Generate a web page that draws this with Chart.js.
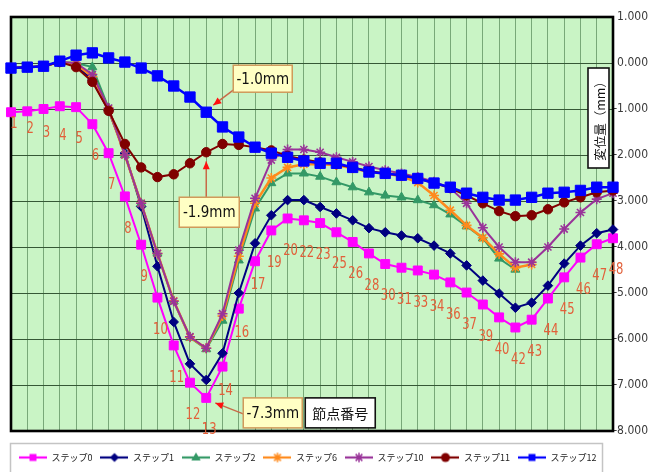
<!DOCTYPE html>
<html><head><meta charset="utf-8">
<script src="https://cdn.jsdelivr.net/npm/chart.js@4/dist/chart.umd.min.js"></script>
<style>html,body{margin:0;padding:0;background:#fff;}#wrap{width:655px;height:472px;}</style>
</head><body><div id="wrap"><canvas id="c" width="655" height="472"></canvas></div>
<script>
// ---- data ----
const nodeLabels = [1,2,3,4,5,6,7,8,9,10,11,12,13,14,16,17,19,20,22,23,25,26,28,30,31,33,34,36,37,39,40,42,43,44,45,46,47,48];
const seriesNames = ['ステップ0','ステップ1','ステップ2','ステップ6','ステップ10','ステップ11','ステップ12'];
const step0  = [-1.07,-1.05,-1.00,-0.94,-0.96,-1.33,-1.96,-2.90,-3.95,-5.10,-6.14,-6.95,-7.28,-6.60,-5.34,-4.31,-3.64,-3.38,-3.42,-3.48,-3.68,-3.89,-4.14,-4.37,-4.45,-4.51,-4.60,-4.77,-4.99,-5.25,-5.53,-5.75,-5.58,-5.12,-4.66,-4.23,-3.94,-3.81];
const step1  = [-0.11,-0.09,-0.07,0.02,-0.05,-0.37,-1.04,-1.96,-3.12,-4.42,-5.63,-6.54,-6.89,-6.31,-5.00,-3.92,-3.31,-2.98,-2.98,-3.13,-3.27,-3.42,-3.59,-3.68,-3.75,-3.81,-3.97,-4.14,-4.40,-4.73,-5.01,-5.32,-5.21,-4.84,-4.36,-3.97,-3.70,-3.62];
const step2  = [-0.11,-0.09,-0.07,0.02,0.00,-0.09,-0.98,-2.00,-3.05,-4.14,-5.18,-5.97,-6.22,-5.60,-4.29,-3.16,-2.61,-2.40,-2.40,-2.47,-2.59,-2.70,-2.81,-2.88,-2.92,-2.98,-3.09,-3.29,-3.55,-3.81,-4.25,-4.49,null,null,null,null,null,null];
const step6  = [-0.11,-0.09,-0.07,0.02,-0.02,-0.30,-1.00,-2.00,-3.05,-4.14,-5.17,-5.96,-6.20,-5.50,-4.20,-3.05,-2.50,-2.27,-2.20,-2.20,-2.22,-2.29,-2.37,-2.40,-2.46,-2.60,-2.88,-3.20,-3.53,-3.80,-4.15,-4.45,-4.38,null,null,null,null,null];
const step10 = [-0.11,-0.09,-0.07,0.02,0.00,-0.25,-0.98,-2.00,-3.05,-4.14,-5.18,-5.95,-6.20,-5.45,-4.07,-2.94,-2.11,-1.88,-1.88,-1.94,-2.05,-2.15,-2.25,-2.33,-2.40,-2.48,-2.58,-2.72,-3.05,-3.58,-4.00,-4.33,-4.33,-4.00,-3.61,-3.25,-2.96,-2.83];
const step11 = [-0.11,-0.09,-0.07,0.02,-0.09,-0.41,-1.04,-1.76,-2.27,-2.48,-2.42,-2.18,-1.94,-1.76,-1.78,-1.83,-1.90,-2.02,-2.10,-2.16,-2.20,-2.27,-2.35,-2.40,-2.44,-2.51,-2.61,-2.72,-2.88,-3.05,-3.22,-3.33,-3.31,-3.18,-3.03,-2.92,-2.81,-2.77];
const step12 = [-0.11,-0.09,-0.07,0.04,0.17,0.22,0.11,0.02,-0.11,-0.28,-0.50,-0.74,-1.07,-1.39,-1.61,-1.83,-1.96,-2.05,-2.13,-2.18,-2.18,-2.27,-2.37,-2.40,-2.44,-2.51,-2.61,-2.70,-2.83,-2.92,-2.98,-2.98,-2.92,-2.83,-2.81,-2.77,-2.70,-2.70];
const yMin = -8, yMax = 1, yStep = 1;
const notes = {blue:'-1.0mm', brown:'-1.9mm', pink:'-7.3mm', nodeTitle:'節点番号', axisTitle:'変位量（mm）'};

// ---- styles ----
const series = [step0, step1, step2, step6, step10, step11, step12];
const colors = ['#ff00ff','#000080','#339966','#ff8a1c','#993399','#800000','#0000ff'];
const pStyles = ['rect','rectRot','triangle','star','star','circle','rect'];
const pRadius = [6.3,4.8,5.2,5.0,5.0,4.7,7.3];
const lWidth = [2,2,2,2.5,2,2,2.5];
const NARROW = "'Liberation Sans Narrow','DejaVu Sans Condensed',sans-serif";

function marker(g, style, r, x, y, color){
  g.save(); g.fillStyle=color; g.strokeStyle=color; g.lineWidth=1.5; g.beginPath();
  if(style==='rect'){const s=r*Math.SQRT1_2; g.rect(x-s,y-s,2*s,2*s); g.fill();}
  else if(style==='rectRot'){g.moveTo(x,y-r);g.lineTo(x+r,y);g.lineTo(x,y+r);g.lineTo(x-r,y);g.closePath();g.fill();}
  else if(style==='triangle'){g.moveTo(x,y-r);g.lineTo(x+r*0.95,y+r*0.6);g.lineTo(x-r*0.95,y+r*0.6);g.closePath();g.fill();}
  else if(style==='circle'){g.arc(x,y,r,0,Math.PI*2);g.fill();}
  else if(style==='star'){const d=r*Math.SQRT1_2;g.moveTo(x-r,y);g.lineTo(x+r,y);g.moveTo(x,y-r);g.lineTo(x,y+r);g.moveTo(x-d,y-d);g.lineTo(x+d,y+d);g.moveTo(x-d,y+d);g.lineTo(x+d,y-d);g.stroke();}
  g.restore();
}
function legendImg(i){
  const c=document.createElement('canvas'); c.width=28; c.height=12;
  const g=c.getContext('2d');
  g.strokeStyle=colors[i]; g.lineWidth=2.2; g.beginPath(); g.moveTo(0,6); g.lineTo(28,6); g.stroke();
  marker(g,pStyles[i],Math.min(pRadius[i],5.2)*0.95,14,6,colors[i]);
  return c;
}
const legendImgs = series.map((s,i)=>legendImg(i));

const datasets = series.map((d,i)=>({
  label: seriesNames[i], data: d, borderColor: colors[i], backgroundColor: colors[i],
  pointStyle: pStyles[i], pointRadius: pRadius[i], pointHoverRadius: pRadius[i],
  pointBorderColor: colors[i], pointBackgroundColor: colors[i],
  pointBorderWidth: pStyles[i]==='star'?1.6:1, borderWidth: lWidth[i],
  tension: 0, clip: false, order: series.length - i
}));

function arrow(g,x1,y1,x2,y2){
  g.save(); g.strokeStyle='#c86a48'; g.lineWidth=1.5;
  g.beginPath(); g.moveTo(x1,y1); g.lineTo(x2,y2); g.stroke();
  const a=Math.atan2(y2-y1,x2-x1), L=8, W=3.5;
  g.fillStyle='#ff1010'; g.beginPath(); g.moveTo(x2,y2);
  g.lineTo(x2-L*Math.cos(a)+W*Math.sin(a), y2-L*Math.sin(a)-W*Math.cos(a));
  g.lineTo(x2-L*Math.cos(a)-W*Math.sin(a), y2-L*Math.sin(a)+W*Math.cos(a));
  g.closePath(); g.fill(); g.restore();
}
function noteBox(g,x,y,w,h,text){
  g.save(); g.fillStyle='#ffffc4'; g.fillRect(x,y,w,h);
  g.strokeStyle='#d09a5a'; g.lineWidth=1.5; g.strokeRect(x,y,w,h);
  g.fillStyle='#111'; g.font='15px '+NARROW; g.textAlign='center'; g.textBaseline='middle';
  g.fillText(text,x+w/2,y+h/2+1); g.restore();
}

const decor = {
  id:'decor',
  beforeDraw(chart){
    const g=chart.ctx, a=chart.chartArea;
    g.save(); g.fillStyle='#fff'; g.fillRect(0,0,chart.width,chart.height);
    g.fillStyle='#c9f4c5'; g.fillRect(a.left,a.top,a.right-a.left,a.bottom-a.top); g.restore();
  },
  beforeDatasetsDraw(chart){
    const g=chart.ctx, a=chart.chartArea;
    g.save(); g.strokeStyle='#000'; g.lineWidth=2.6;
    g.strokeRect(a.left,a.top,a.right-a.left,a.bottom-a.top); g.restore();
  },
  afterDatasetsDraw(chart){
    const g=chart.ctx, a=chart.chartArea, xs=chart.scales.x, ys=chart.scales.y;
    // node labels beside ステップ0 points
    g.save(); g.fillStyle='#e2603a'; g.textAlign='center'; g.textBaseline='middle';
    nodeLabels.forEach((n,i)=>{
      const px=xs.getPixelForValue(i), py=ys.getPixelForValue(step0[i]);
      const prev=step0[Math.max(0,i-1)], next=step0[Math.min(step0.length-1,i+1)];
      const steepUp = next-prev > 1.5;
      const dy=steepUp ? 24 : Math.min(32,12+6*i);
      g.save(); g.translate(px+3,py+dy); g.scale(0.92,1.15);
      g.font='14px '+NARROW; g.fillText(String(n),0,0); g.restore();
    });
    g.restore();
    // annotations
    const bx=xs.getPixelForValue(12), by=ys.getPixelForValue(step12[12]);
    arrow(g,bx+27,by-22,bx+7,by-7);
    noteBox(g,bx+27,by-47,59,27,notes.blue);
    const rx=xs.getPixelForValue(12), ry=ys.getPixelForValue(step11[12]);
    arrow(g,rx,ry+45,rx,ry+9);
    noteBox(g,rx-27,ry+45,60,30,notes.brown);
    const px=xs.getPixelForValue(12), py=ys.getPixelForValue(step0[12]);
    arrow(g,px+37,py+16,px+9,py+5);
    noteBox(g,px+37,py,59,30,notes.pink);
    g.save(); g.fillStyle='#fff'; g.fillRect(px+99,py,70,30);
    g.strokeStyle='#111'; g.lineWidth=1.6; g.strokeRect(px+99,py,70,30);
    g.fillStyle='#111'; g.font="14px 'Noto Sans CJK JP'"; g.textAlign='center'; g.textBaseline='middle';
    g.fillText(notes.nodeTitle,px+134,py+16); g.restore();
    // axis title box
    g.save(); const tx=a.right-25, ty=a.top+51;
    g.fillStyle='#fff'; g.fillRect(tx,ty,21,100);
    g.strokeStyle='#111'; g.lineWidth=1.6; g.strokeRect(tx,ty,21,100);
    g.translate(tx+11,ty+50); g.rotate(-Math.PI/2);
    g.fillStyle='#111'; g.font="12.5px 'Noto Sans CJK JP'"; g.textAlign='center'; g.textBaseline='middle';
    g.fillText(notes.axisTitle,0,1); g.restore();
  },
  afterDraw(chart){
    const g=chart.ctx, a=chart.chartArea;
    g.save(); g.strokeStyle='#c4c4c4'; g.lineWidth=1.5;
    g.strokeRect(10.5,a.bottom+12.5,592,40); g.restore();
  }
};

new Chart(document.getElementById('c'),{
  type:'line',
  data:{labels:nodeLabels.map(String), datasets},
  options:{
    responsive:false, animation:false, devicePixelRatio:1,
    layout:{padding:{left:11,top:17,right:7,bottom:0}},
    plugins:{
      tooltip:{enabled:false},
      legend:{position:'bottom', align:'start',
        labels:{usePointStyle:true, pointStyleWidth:28, boxHeight:10, padding:8,
          font:{size:9, family:"'Noto Sans CJK JP'"}, color:'#222',
          generateLabels(chart){
            return chart.data.datasets.map((ds,i)=>({text:ds.label, pointStyle:legendImgs[i],
              fillStyle:colors[i], strokeStyle:colors[i], lineWidth:0, hidden:false, datasetIndex:i, fontColor:'#222'}));
          }}}
    },
    scales:{
      x:{type:'category', offset:false,
        grid:{color:'#78a878', lineWidth:1, drawTicks:false},
        border:{display:false}, ticks:{display:false},
        afterFit(s){s.height=14;}},
      y:{position:'right', min:yMin, max:yMax,
        ticks:{stepSize:yStep, callback:v=>Number(v).toFixed(3), padding:6, crossAlign:'far',
          font:{family:NARROW, size:12}, color:'#3a3a3a'},
        grid:{color:'#365836', lineWidth:1, drawTicks:false},
        border:{display:false},
        afterFit(s){s.width=35;}}
    }
  },
  plugins:[decor]
});
</script></body></html>
